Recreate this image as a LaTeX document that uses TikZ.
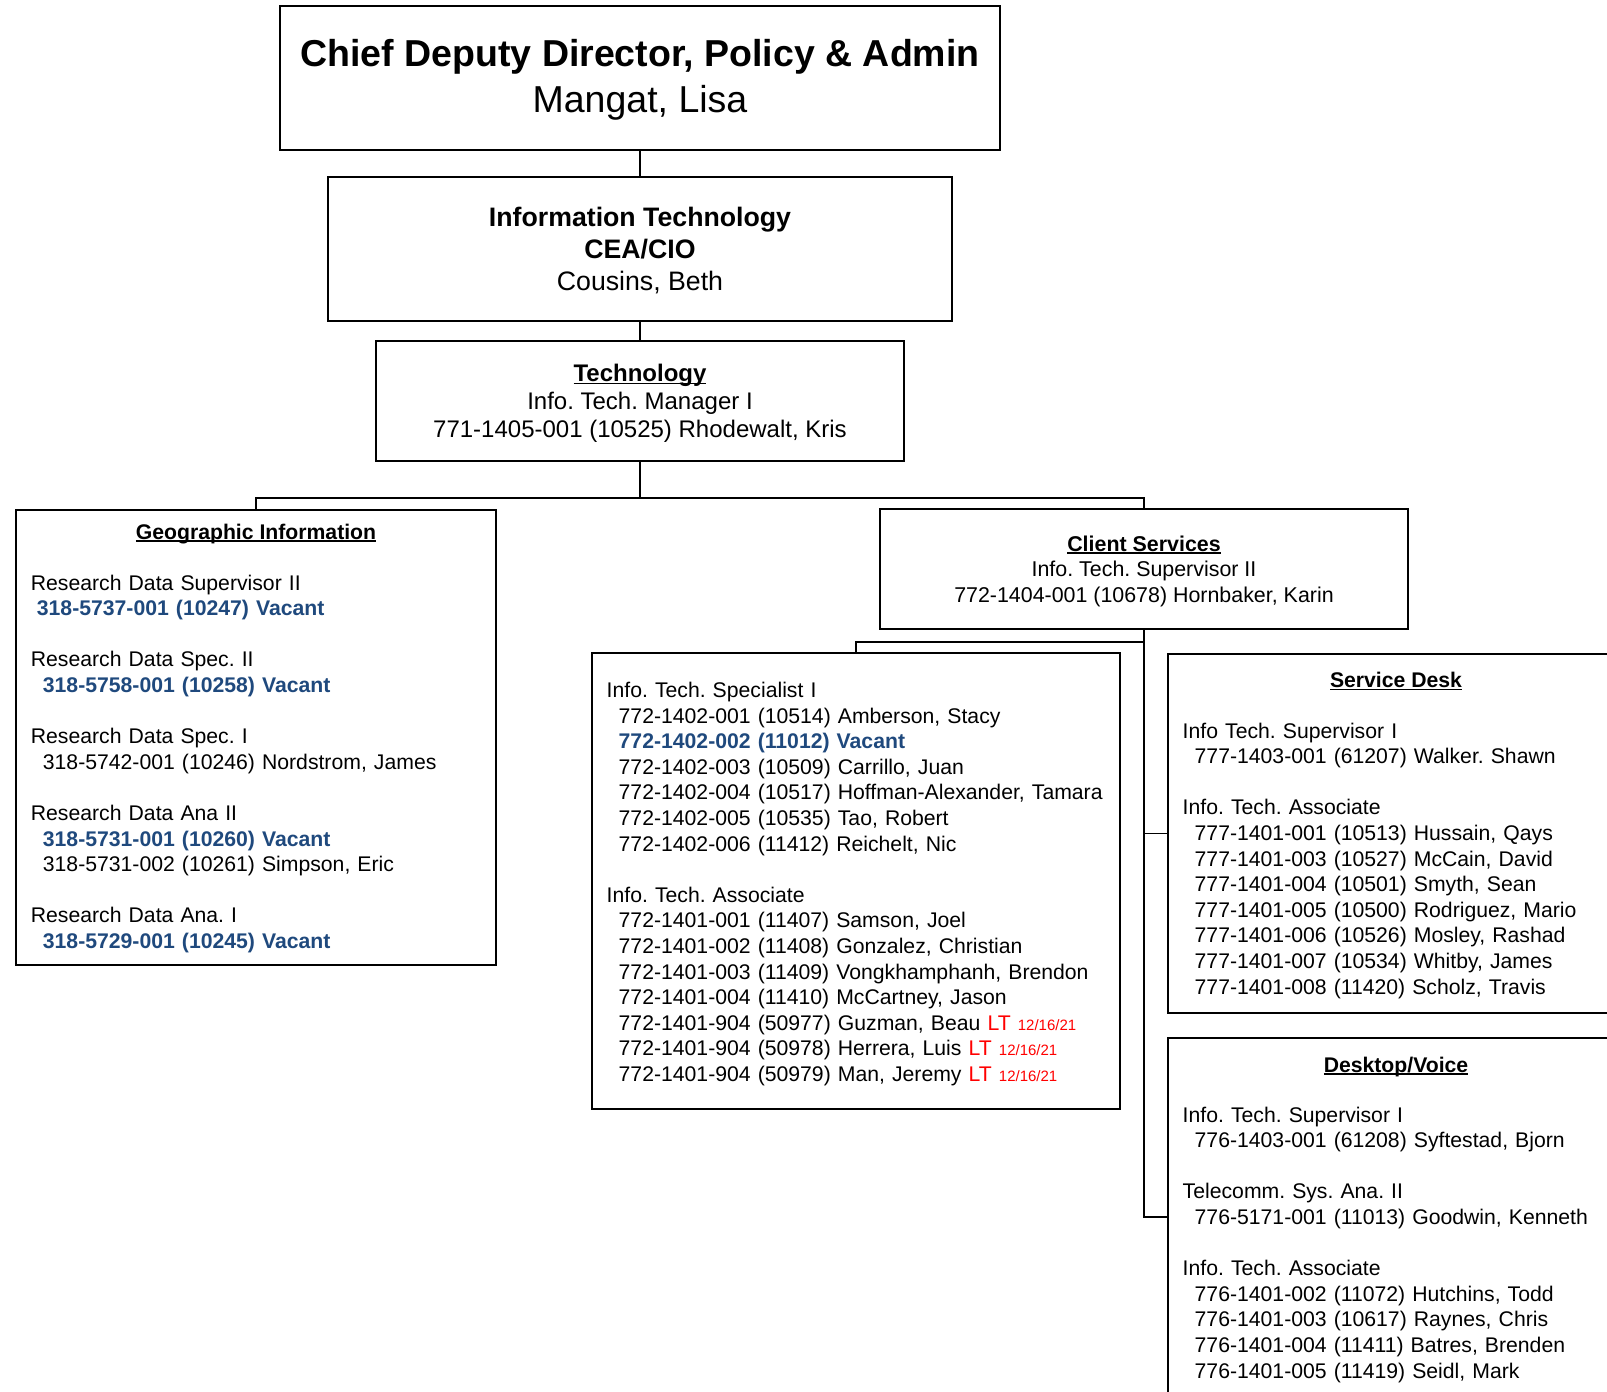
\documentclass[tikz,border=0pt]{standalone}
\usepackage{fontspec}
\setmainfont{Liberation Sans}
\usepackage{tikz}

\definecolor{vacblue}{RGB}{31,73,125}
\definecolor{ltred}{RGB}{255,0,0}
\newcommand{\vac}[1]{\textcolor{vacblue}{\textbf{#1}}}
\newcommand{\ltmark}{\textcolor{ltred}{LT {\fontsize{15}{16}\selectfont 12/16/21}}}
\newcommand{\hdrline}[1]{\setbox0\hbox{#1}\rlap{\rule[-2.6pt]{\wd0}{1.6pt}}\box0}

\begin{document}
\frenchspacing
\begin{tikzpicture}[x=1pt, y=-1pt,
    box/.style={draw, line width=2.2pt, inner sep=0pt, outer sep=0pt},
    link/.style={line width=1.8pt},
    txt/.style={anchor=base west, inner sep=0pt, align=left, text width=520pt,
      font=\fontsize{21.2}{25.6}\selectfont},
    head/.style={anchor=base, inner sep=0pt, font=\fontsize{21.2}{25.6}\selectfont\bfseries}]

  \useasboundingbox (0,0) rectangle (1607,1392);
  \clip (0,0) rectangle (1607,1392);

  % Top of the chart
  \node[box, minimum width=720pt, minimum height=144pt, align=center,
    font=\fontsize{37.5}{46.5}\selectfont] (chief) at (640,78)
    {\rule{0pt}{31pt}\textbf{Chief Deputy Director, Policy \& Admin}\\Mangat, Lisa};
  \node[box, minimum width=624pt, minimum height=144pt, align=center,
    font=\fontsize{26.7}{32}\selectfont] (cio) at (640,249)
    {\rule{0pt}{23pt}\textbf{Information Technology}\\\textbf{CEA/CIO}\\Cousins, Beth};
  \node[box, minimum width=528pt, minimum height=120pt, align=center,
    font=\fontsize{24}{28}\selectfont] (tech) at (640,401)
    {\rule{0pt}{22pt}\hdrline{\textbf{Technology}}\\Info. Tech. Manager I\\771-1405-001 (10525) Rhodewalt, Kris};

  % Units below Technology
  \node[box, anchor=north west, minimum width=480pt, minimum height=455pt] (geo) at (16,510) {};
  \node[box, minimum width=528pt, minimum height=120pt, align=center,
    font=\fontsize{21.4}{25.6}\selectfont] (client) at (1144,569)
    {\rule{0pt}{20pt}\hdrline{\textbf{Client Services}}\\Info. Tech. Supervisor II\\772-1404-001 (10678) Hornbaker, Karin};
  \node[box, anchor=north west, minimum width=528pt, minimum height=456pt] (spec) at (592,653) {};
  \node[box, anchor=north west, minimum width=456pt, minimum height=359pt] (sd) at (1168,654) {};
  \node[box, anchor=north west, minimum width=456pt, minimum height=358pt] (dv) at (1168,1038) {};

  % Connectors
  \coordinate (split) at (640,498);
  \coordinate (csjoin) at (1144,642);
  \draw[link] (chief.south) -- (cio.north);
  \draw[link] (cio.south) -- (tech.north);
  \draw[link] (tech.south) -- (split);
  \draw[link] (geo.north) |- (split) -| (client.north);
  \draw[link] (client.south) -- (client.south |- dv.west) -- (dv.west);
  \draw[link] (csjoin) -| (spec.north);
  \draw[link] (client.south |- sd.west) -- (sd.west);

  % Geographic Information
  \node[head] (geohead) at (256,539) {\hdrline{Geographic Information}};
  \node[txt] (geotext) at (30.7,590) {Research Data Supervisor II\\
    \hspace*{6pt}\vac{318-5737-001 (10247) Vacant}\\[25.6pt]
    Research Data Spec. II\\
    \hspace*{12pt}\vac{318-5758-001 (10258) Vacant}\\[25.6pt]
    Research Data Spec. I\\
    \hspace*{12pt}318-5742-001 (10246) Nordstrom, James\\[25.6pt]
    Research Data Ana II\\
    \hspace*{12pt}\vac{318-5731-001 (10260) Vacant}\\
    \hspace*{12pt}318-5731-002 (10261) Simpson, Eric\\[25.6pt]
    Research Data Ana. I\\
    \hspace*{12pt}\vac{318-5729-001 (10245) Vacant}};

  % Specialists and associates
  \node[txt] (spectext) at (606.5,697.5) {Info. Tech. Specialist I\\
    \hspace*{12pt}772-1402-001 (10514) Amberson, Stacy\\
    \hspace*{12pt}\vac{772-1402-002 (11012) Vacant}\\
    \hspace*{12pt}772-1402-003 (10509) Carrillo, Juan\\
    \hspace*{12pt}772-1402-004 (10517) Hoffman-Alexander, Tamara\\
    \hspace*{12pt}772-1402-005 (10535) Tao, Robert\\
    \hspace*{12pt}772-1402-006 (11412) Reichelt, Nic\\[25.6pt]
    Info. Tech. Associate\\
    \hspace*{12pt}772-1401-001 (11407) Samson, Joel\\
    \hspace*{12pt}772-1401-002 (11408) Gonzalez, Christian\\
    \hspace*{12pt}772-1401-003 (11409) Vongkhamphanh, Brendon\\
    \hspace*{12pt}772-1401-004 (11410) McCartney, Jason\\
    \hspace*{12pt}772-1401-904 (50977) Guzman, Beau \ltmark\\
    \hspace*{12pt}772-1401-904 (50978) Herrera, Luis \ltmark\\
    \hspace*{12pt}772-1401-904 (50979) Man, Jeremy \ltmark};

  % Service Desk
  \node[head] (sdhead) at (1396,687.5) {\hdrline{Service Desk}};
  \node[txt] (sdtext) at (1182.5,738) {Info Tech. Supervisor I\\
    \hspace*{12pt}777-1403-001 (61207) Walker. Shawn\\[25.6pt]
    Info. Tech. Associate\\
    \hspace*{12pt}777-1401-001 (10513) Hussain, Qays\\
    \hspace*{12pt}777-1401-003 (10527) McCain, David\\
    \hspace*{12pt}777-1401-004 (10501) Smyth, Sean\\
    \hspace*{12pt}777-1401-005 (10500) Rodriguez, Mario\\
    \hspace*{12pt}777-1401-006 (10526) Mosley, Rashad\\
    \hspace*{12pt}777-1401-007 (10534) Whitby, James\\
    \hspace*{12pt}777-1401-008 (11420) Scholz, Travis};

  % Desktop/Voice
  \node[head] (dvhead) at (1396,1072) {\hdrline{Desktop/Voice}};
  \node[txt] (dvtext) at (1182.5,1122) {Info. Tech. Supervisor I\\
    \hspace*{12pt}776-1403-001 (61208) Syftestad, Bjorn\\[25.6pt]
    Telecomm. Sys. Ana. II\\
    \hspace*{12pt}776-5171-001 (11013) Goodwin, Kenneth\\[25.6pt]
    Info. Tech. Associate\\
    \hspace*{12pt}776-1401-002 (11072) Hutchins, Todd\\
    \hspace*{12pt}776-1401-003 (10617) Raynes, Chris\\
    \hspace*{12pt}776-1401-004 (11411) Batres, Brenden\\
    \hspace*{12pt}776-1401-005 (11419) Seidl, Mark};

\end{tikzpicture}
\end{document}
